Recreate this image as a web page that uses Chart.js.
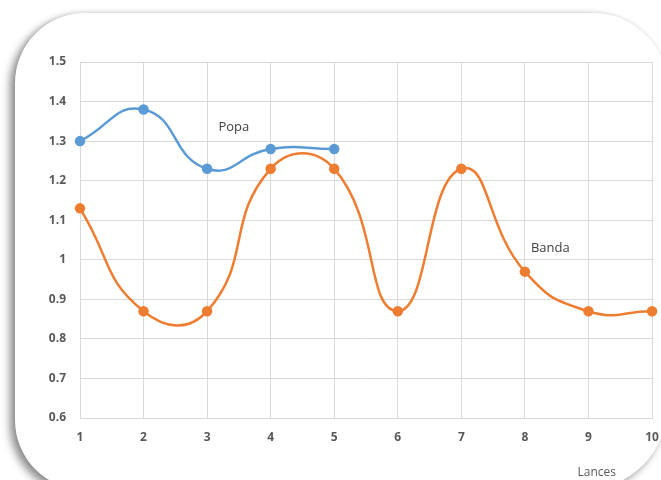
<!DOCTYPE html>
<html>
<head>
<meta charset="utf-8">
<script src="https://cdn.jsdelivr.net/npm/chart.js@4/dist/chart.umd.min.js"></script>
<style>
  html, body { margin: 0; padding: 0; background: #ffffff; width: 661px; height: 480px; overflow: hidden; }
  #frame { position: absolute; left: 15px; top: 13px; width: 653px; height: 477px;
           border-radius: 70px 75px 85px 70px;
           overflow: hidden; background: #ffffff; box-shadow: -5px 4px 8px rgba(0,0,0,0.45), 0 -1px 4px rgba(0,0,0,0.08); }
  #c { position: absolute; left: -15px; top: -13px; }
</style>
</head>
<body>
<div id="frame"><canvas id="c" width="661" height="480"></canvas></div>
<script>
const lances = [1, 2, 3, 4, 5, 6, 7, 8, 9, 10];
const popa = [1.30, 1.38, 1.23, 1.28, 1.28];
const banda = [1.13, 0.87, 0.87, 1.23, 1.23, 0.87, 1.23, 0.97, 0.87, 0.87];
const yTicks = [0.6, 0.7, 0.8, 0.9, 1, 1.1, 1.2, 1.3, 1.4, 1.5];
const seriesLabels = [
  { text: 'Popa', x: 3.42, y: 1.336 },
  { text: 'Banda', x: 8.4, y: 1.03 }
];
const xTitle = 'Lances';

const toPts = (arr) => arr.map((v, i) => ({ x: lances[i], y: v }));

const labelPlugin = {
  id: 'labels',
  afterDatasetsDraw(chart) {
    const ctx = chart.ctx, xs = chart.scales.x, ys = chart.scales.y;
    ctx.save();
    ctx.font = '13px "Open Sans", sans-serif';
    ctx.fillStyle = '#404040';
    ctx.textAlign = 'center';
    ctx.textBaseline = 'middle';
    seriesLabels.forEach(l => ctx.fillText(l.text, xs.getPixelForValue(l.x), ys.getPixelForValue(l.y)));
    ctx.font = '12px "Open Sans", sans-serif';
    ctx.fillStyle = '#595959';
    ctx.fillText(xTitle, xs.getPixelForValue(9.13), chart.height - 7);
    ctx.restore();
  }
};

new Chart(document.getElementById('c'), {
  type: 'line',
  data: {
    datasets: [
      { label: 'Popa', data: toPts(popa), borderColor: '#5B9BD5', backgroundColor: '#5B9BD5',
        borderWidth: 2.5, pointRadius: 4, tension: 0.5, clip: false },
      { label: 'Banda', data: toPts(banda), borderColor: '#ED7D31', backgroundColor: '#ED7D31',
        borderWidth: 2.5, pointRadius: 4, tension: 0.5, clip: false }
    ]
  },
  options: {
    responsive: false,
    animation: false,
    layout: { padding: { left: 0, right: 0, top: 62, bottom: 0 } },
    plugins: { legend: { display: false }, tooltip: { enabled: false } },
    scales: {
      x: {
        type: 'linear', min: 1, max: 10,
        afterBuildTicks: (s) => { s.ticks = lances.map(v => ({ value: v })); },
        afterFit: (s) => { s.height = 62; s.paddingRight = 9; s.paddingLeft = 0; },
        grid: { color: '#d9d9d9', drawTicks: false },
        border: { color: '#d9d9d9' },
        ticks: { padding: 12, color: '#595959', font: { family: 'Open Sans', size: 12, weight: 'bold' } }
      },
      y: {
        min: 0.6, max: 1.5,
        afterBuildTicks: (s) => { s.ticks = yTicks.map(v => ({ value: v })); },
        afterFit: (s) => { s.width = 80; },
        grid: { color: '#d9d9d9', drawTicks: false },
        border: { color: '#d9d9d9' },
        ticks: { padding: 14, color: '#595959', font: { family: 'Open Sans', size: 12, weight: 'bold' },
                 callback: (v) => String(Math.round(v * 10) / 10) }
      }
    }
  },
  plugins: [labelPlugin]
});
</script>
</body>
</html>
